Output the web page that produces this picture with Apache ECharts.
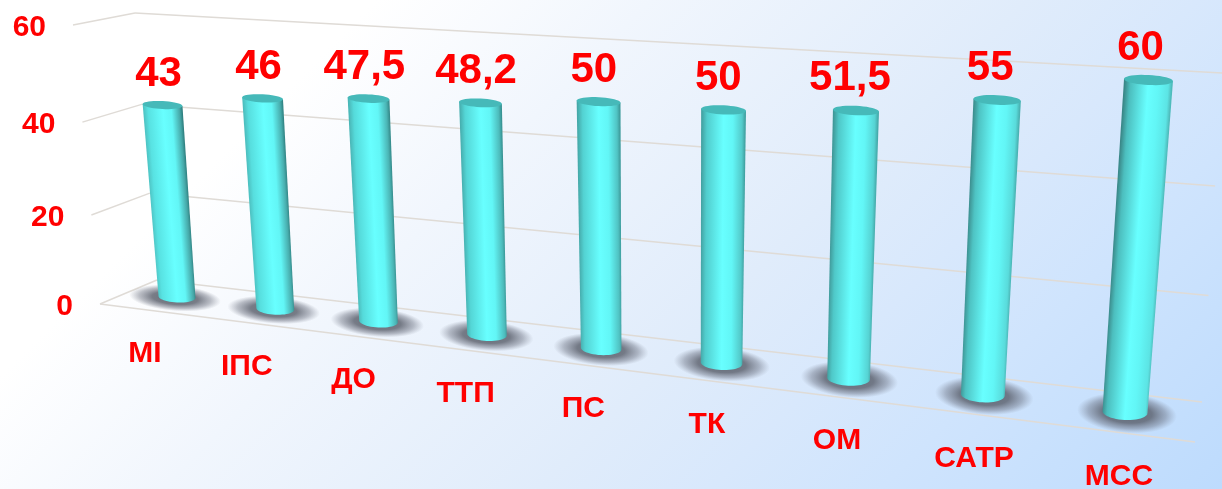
<!DOCTYPE html>
<html>
<head>
<meta charset="utf-8">
<style>html,body{margin:0;padding:0;background:#fff}#c{width:1222px;height:489px}</style>
<script src="https://cdn.jsdelivr.net/npm/echarts@6/dist/echarts.min.js"></script>
</head>
<body>
<div id="c"></div>
<script>
const categories = ['МІ','ІПС','ДО','ТТП','ПС','ТК','ОМ','САТР','МСС'];
const values = [43,46,47.5,48.2,50,50,51.5,55,60];
const yTicks = [0,20,40,60];
const W = 1222, H = 489, N = categories.length - 1, VMAX = 60;
const FONT = '"Liberation Sans", Arial, sans-serif';

// Perspective view: each plane is a quad [u0v0, u1v0, u1v1, u0v1]
function quad(p){
  const [x0,y0]=p[0],[x1,y1]=p[1],[x2,y2]=p[2],[x3,y3]=p[3];
  const dx1=x1-x2,dx2=x3-x2,sx=x0-x1+x2-x3,dy1=y1-y2,dy2=y3-y2,sy=y0-y1+y2-y3;
  const D=dx1*dy2-dx2*dy1;
  const g=(sx*dy2-dx2*sy)/D,h=(dx1*sy-sx*dy1)/D;
  const a=x1-x0+g*x1,b=x3-x0+h*x3,c=x0,d=y1-y0+g*y1,e=y3-y0+h*y3,f=y0;
  return (u,v)=>{const w=g*u+h*v+1;return [(a*u+b*v+c)/w,(d*u+e*v+f)/w];};
}
const barPlane  = quad([[177,297],[1125,412],[1148.5,80],[156.6,26]]);
const wallPlane = quad([[157,280],[1202,402],[1222,73],[135,13]]);
const sidePlane = quad([[100,304],[157,280],[135,13],[73,25]]);
const floorFront = [[100,304],[1195,442]];

function norm(api, x, v){
  const p = api.coord([x, v]);
  return [p[0]/W, 1 - p[1]/H];
}
const lerp=(a,b,t)=>a+(b-a)*t;
function hex(c){return [parseInt(c.slice(1,3),16),parseInt(c.slice(3,5),16),parseInt(c.slice(5,7),16)];}
function mix(a,b,t){const A=hex(a),B=hex(b);return 'rgb('+A.map((x,i)=>Math.round(lerp(x,B[i],t))).join(',')+')';}
const LINE='#dfdbd6';
function line(a,b){return {type:'line',shape:{x1:a[0],y1:a[1],x2:b[0],y2:b[1]},style:{stroke:LINE,lineWidth:1.5,fill:null},silent:true};}

function renderGrid(params, api){
  const v = api.value(1);
  const [u0,t] = norm(api,0,v), [u1] = norm(api,N,v);
  const f = sidePlane(0,t), b = wallPlane(u0,t), r = wallPlane(u1,t);
  const ch = [line(f,b), line(b,r),
    {type:'text',style:{text:String(v),x:f[0]-27,y:f[1]+3,align:'right',verticalAlign:'middle',textAlign:'right',textVerticalAlign:'middle',font:'bold 30px '+FONT,fill:'#ff0000'}}];
  if(v===0) ch.push(line(floorFront[0],floorFront[1]));
  return {type:'group',children:ch};
}

function ellipsePts(c,rx,ry,rot,a0,a1,n){
  const pts=[];
  for(let k=0;k<=n;k++){
    const a=lerp(a0,a1,k/n),x=rx*Math.cos(a),y=ry*Math.sin(a);
    pts.push([c[0]+x*Math.cos(rot)-y*Math.sin(rot),c[1]+x*Math.sin(rot)+y*Math.cos(rot)]);
  }
  return pts;
}

function renderBar(params, api){
  const i = api.value(0), val = api.value(1);
  const [u,tt] = norm(api,i,val), [,t0] = norm(api,i,0);
  const base = barPlane(u,t0), top = barPlane(u,tt);
  const f = (base[0]-177)/948, s = val/VMAX;
  const rxB = 18.5+4*f, rxT = 18.5+4*f+2*s;
  const ryB = 5.5+2.5*f, ryT = 4+1*f;
  const rot = 0.05;
  const lower = ellipsePts(base,rxB,ryB,rot,0,Math.PI,24);
  const tr = [top[0]+rxT*Math.cos(rot),top[1]+rxT*Math.sin(rot)];
  const tl = [top[0]-rxT*Math.cos(rot),top[1]-rxT*Math.sin(rot)];
  const m=[(base[0]+top[0])/2,(base[1]+top[1])/2];
  const ax=top[0]-base[0],ay=top[1]-base[1],L=Math.hypot(ax,ay);
  const nx=-ay/L,ny=ax/L,r=(rxB+rxT)/2;
  const sgn = nx>0?1:-1;
  const leftEdge = mix('#4ec4c4','#3a8888',f), rightEdge = mix('#2f8080','#4fbcbc',f);
  const leftIn = mix('#58e2e2','#4cbebe',f), rightIn = mix('#46a8a8','#5ce4e4',f);
  const grad = {type:'linear',global:true,
    x:m[0]-sgn*nx*r,y:m[1]-sgn*ny*r,x2:m[0]+sgn*nx*r,y2:m[1]+sgn*ny*r,
    colorStops:[{offset:0,color:leftEdge},{offset:.12,color:leftIn},{offset:.5,color:'#68ffff'},
      {offset:.72,color:'#62f6f6'},{offset:.93,color:rightIn},{offset:1,color:rightEdge}]};
  const shadowR = 46+4*f;
  const bow = Math.sin(Math.PI*f);
  const labelX = top[0]+lerp(-4,-8,f)+bow, labelY = top[1]+lerp(-31,-32,f);
  const catLabelX = base[0]+lerp(-32,-6,f)+2.5*bow, catLabelY = base[1]+lerp(57,65,f);
  return {type:'group',children:[
    {type:'circle',shape:{cx:0,cy:0,r:shadowR},x:base[0]+lerp(-2,2,f),y:base[1]+1,
     scaleY:(13+7*f)/shadowR,rotation:-0.08,
     style:{fill:{type:'radial',x:.5,y:.5,r:.5,colorStops:[
       {offset:0,color:'rgba(85,90,100,0.9)'},{offset:.5,color:'rgba(88,93,105,0.8)'},
       {offset:.78,color:'rgba(100,105,120,0.42)'},{offset:1,color:'rgba(120,125,140,0)'}]}}},
    {type:'polygon',shape:{points:[tl,tr].concat(lower)},style:{fill:grad}},
    {type:'polygon',shape:{points:ellipsePts(top,rxT,ryT,rot,0,Math.PI*2,40)},style:{fill:'#46b9b9'}},
    {type:'text',style:{text:String(val).replace('.',','),x:labelX,y:labelY,align:'center',verticalAlign:'middle',textAlign:'center',textVerticalAlign:'middle',font:'bold 42px '+FONT,fill:'#ff0000'}},
    {type:'text',style:{text:categories[i],x:catLabelX,y:catLabelY,align:'center',verticalAlign:'middle',textAlign:'center',textVerticalAlign:'middle',font:'bold 30px '+FONT,fill:'#ff0000'}}
  ]};
}

const chart = echarts.init(document.getElementById('c'),null,{renderer:'canvas'});
chart.setOption({
  animation:false,
  backgroundColor:{type:'linear',x:0,y:0,x2:.7,y2:1.75,colorStops:[
    {offset:0,color:'#ffffff'},{offset:.22,color:'#ffffff'},{offset:.38,color:'#f1f6fd'},
    {offset:.6,color:'#e0ecfb'},{offset:.7,color:'#d8e8fc'},{offset:.8,color:'#cfe4fd'},{offset:1,color:'#bddbfd'}]},
  grid:{left:0,right:0,top:0,bottom:0},
  xAxis:{type:'category',data:categories,boundaryGap:false,show:false},
  yAxis:{type:'value',min:0,max:VMAX,interval:20,show:false},
  series:[
    {type:'custom',z:1,coordinateSystem:'cartesian2d',silent:true,encode:{x:0,y:1},
     data:yTicks.map(v=>[0,v]),renderItem:renderGrid},
    {type:'custom',z:2,coordinateSystem:'cartesian2d',silent:true,encode:{x:0,y:1},
     data:values.map((v,i)=>[i,v]),renderItem:renderBar}
  ]
});
</script>
</body>
</html>
